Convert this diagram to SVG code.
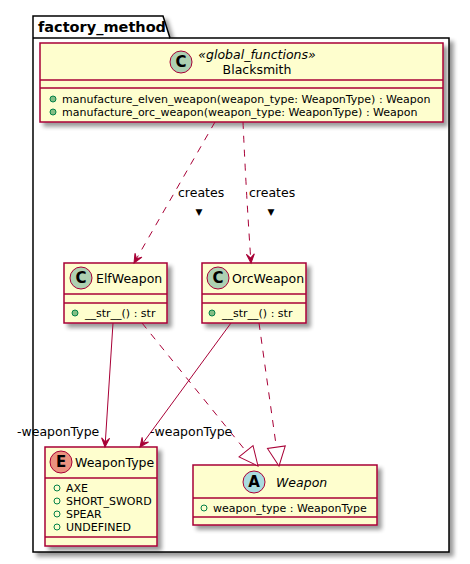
<svg xmlns="http://www.w3.org/2000/svg" width="470" height="564" viewBox="0 0 470 564">
<defs>
<filter id="sh" x="-10%" y="-10%" width="130%" height="130%">
<feGaussianBlur in="SourceAlpha" stdDeviation="2"/>
<feOffset dx="4" dy="4" result="b"/>
<feComponentTransfer><feFuncA type="linear" slope="0.4"/></feComponentTransfer>
<feMerge><feMergeNode/><feMergeNode in="SourceGraphic"/></feMerge>
</filter>
<marker id="arr" viewBox="-11 -6 13 12" refX="0" refY="0" markerWidth="13" markerHeight="12" orient="auto" markerUnits="userSpaceOnUse">
<path d="M0,0 L-9,-4 L-5,0 L-9,4 Z" fill="#A80036" stroke="#A80036" stroke-width="1"/>
</marker>
<marker id="tri" viewBox="-21 -11 23 22" refX="0" refY="0" markerWidth="23" markerHeight="22" orient="auto" markerUnits="userSpaceOnUse">
<path d="M0,0 L-19,-9 L-19,9 Z" fill="#FFFFFF" stroke="#A80036" stroke-width="1"/>
</marker>
</defs>
<style>
text{font-family:"DejaVu Sans","Liberation Sans",sans-serif;fill:#000}
.box{fill:#FEFECE;stroke:#A80036;stroke-width:1.5}
.div{stroke:#A80036;stroke-width:1.5}
.nm{font-size:12.5px}
.mb{font-size:11px}
.lbl{font-size:12.5px}
.pub{fill:#84BE84;stroke:#038048;stroke-width:1}
.fld{fill:none;stroke:#038048;stroke-width:1}
.dep{fill:none;stroke:#A80036;stroke-width:1;stroke-dasharray:7,7}
.sol{fill:none;stroke:#A80036;stroke-width:1}
.circ{stroke:#A80036;stroke-width:1}
.ltr{font-size:15px;font-weight:bold;text-anchor:middle}
</style>
<g id="factory_method">
<path d="M33,16 L163,16 L170,38 L449,38 L449,552 L33,552 Z" fill="#FFFFFF" stroke="#000" stroke-width="1.5" filter="url(#sh)"/>
<line x1="33" y1="38" x2="170" y2="38" stroke="#000" stroke-width="1.5"/>
<text x="38" y="32" style="font-size:14.5px;font-weight:bold">factory_method</text>
</g>
<g id="Blacksmith">
<rect class="box" x="40" y="43" width="403" height="79" filter="url(#sh)"/>
<circle class="circ" cx="181" cy="62" r="11" fill="#ADD1B2"/>
<text class="ltr" x="181" y="67">C</text>
<text x="257" y="59" style="font-size:12.5px;font-style:italic" text-anchor="middle">«global_functions»</text>
<text class="nm" x="257" y="74" text-anchor="middle">Blacksmith</text>
<line class="div" x1="40" y1="80" x2="443" y2="80"/>
<line class="div" x1="40" y1="88" x2="443" y2="88"/>
<circle class="pub" cx="53" cy="99" r="3"/>
<text class="mb" x="62" y="103">manufacture_elven_weapon(weapon_type: WeaponType) : Weapon</text>
<circle class="pub" cx="53" cy="112" r="3"/>
<text class="mb" x="62" y="116">manufacture_orc_weapon(weapon_type: WeaponType) : Weapon</text>
</g>
<g id="ElfWeapon">
<rect class="box" x="64" y="263" width="103" height="60" filter="url(#sh)"/>
<circle class="circ" cx="81" cy="278" r="11" fill="#ADD1B2"/>
<text class="ltr" x="81" y="283">C</text>
<text class="nm" x="96" y="283">ElfWeapon</text>
<line class="div" x1="64" y1="294" x2="167" y2="294"/>
<line class="div" x1="64" y1="303" x2="167" y2="303"/>
<circle class="pub" cx="75" cy="313" r="3"/>
<text class="mb" x="85" y="317">__str__() :  str</text>
</g>
<g id="OrcWeapon">
<rect class="box" x="202" y="263" width="104" height="60" filter="url(#sh)"/>
<circle class="circ" cx="218" cy="278" r="11" fill="#ADD1B2"/>
<text class="ltr" x="218" y="283">C</text>
<text class="nm" x="232" y="283">OrcWeapon</text>
<line class="div" x1="202" y1="294" x2="306" y2="294"/>
<line class="div" x1="202" y1="303" x2="306" y2="303"/>
<circle class="pub" cx="212" cy="313" r="3"/>
<text class="mb" x="222" y="317">__str__() :  str</text>
</g>
<g id="WeaponType">
<rect class="box" x="45" y="447" width="112" height="99" filter="url(#sh)"/>
<circle class="circ" cx="61" cy="462" r="11" fill="#EB937F"/>
<text class="ltr" x="61" y="467">E</text>
<text class="nm" x="75" y="467">WeaponType</text>
<line class="div" x1="45" y1="478" x2="157" y2="478"/>
<circle class="fld" cx="57" cy="488" r="3"/>
<text class="mb" x="66" y="492">AXE</text>
<circle class="fld" cx="57" cy="501" r="3"/>
<text class="mb" x="66" y="505">SHORT_SWORD</text>
<circle class="fld" cx="57" cy="514" r="3"/>
<text class="mb" x="66" y="518">SPEAR</text>
<circle class="fld" cx="57" cy="527" r="3"/>
<text class="mb" x="66" y="531">UNDEFINED</text>
<line class="div" x1="45" y1="537" x2="157" y2="537"/>
</g>
<g id="Weapon">
<rect class="box" x="193" y="465" width="184" height="60" filter="url(#sh)"/>
<circle class="circ" cx="254" cy="482" r="11" fill="#A9DCDF"/>
<text class="ltr" x="254" y="487">A</text>
<text class="nm" x="276" y="487" style="font-style:italic">Weapon</text>
<line class="div" x1="193" y1="498" x2="377" y2="498"/>
<circle class="fld" cx="204" cy="508" r="3"/>
<text class="mb" x="213" y="512">weapon_type : WeaponType</text>
<line class="div" x1="193" y1="517" x2="377" y2="517"/>
</g>
<g id="connectors">
<path class="dep" d="M215,122 L134,263" marker-end="url(#arr)"/>
<path class="dep" d="M243,122 Q246,190 251,263" marker-end="url(#arr)"/>
<path class="sol" d="M113,323 L105,447" marker-end="url(#arr)"/>
<path class="sol" d="M231,323 L140,447" marker-end="url(#arr)"/>
<path class="dep" d="M142,323 L258,466" marker-end="url(#tri)"/>
<path class="dep" d="M259,323 L279,466" marker-end="url(#tri)"/>
<text class="lbl" x="178" y="197">creates</text>
<text x="199" y="215" style="font-size:9px" text-anchor="middle">▼</text>
<text class="lbl" x="249" y="197">creates</text>
<text x="271" y="215" style="font-size:9px" text-anchor="middle">▼</text>
<text class="lbl" x="17" y="436">-weaponType</text>
<text class="lbl" x="150" y="436">-weaponType</text>
</g>
</svg>
